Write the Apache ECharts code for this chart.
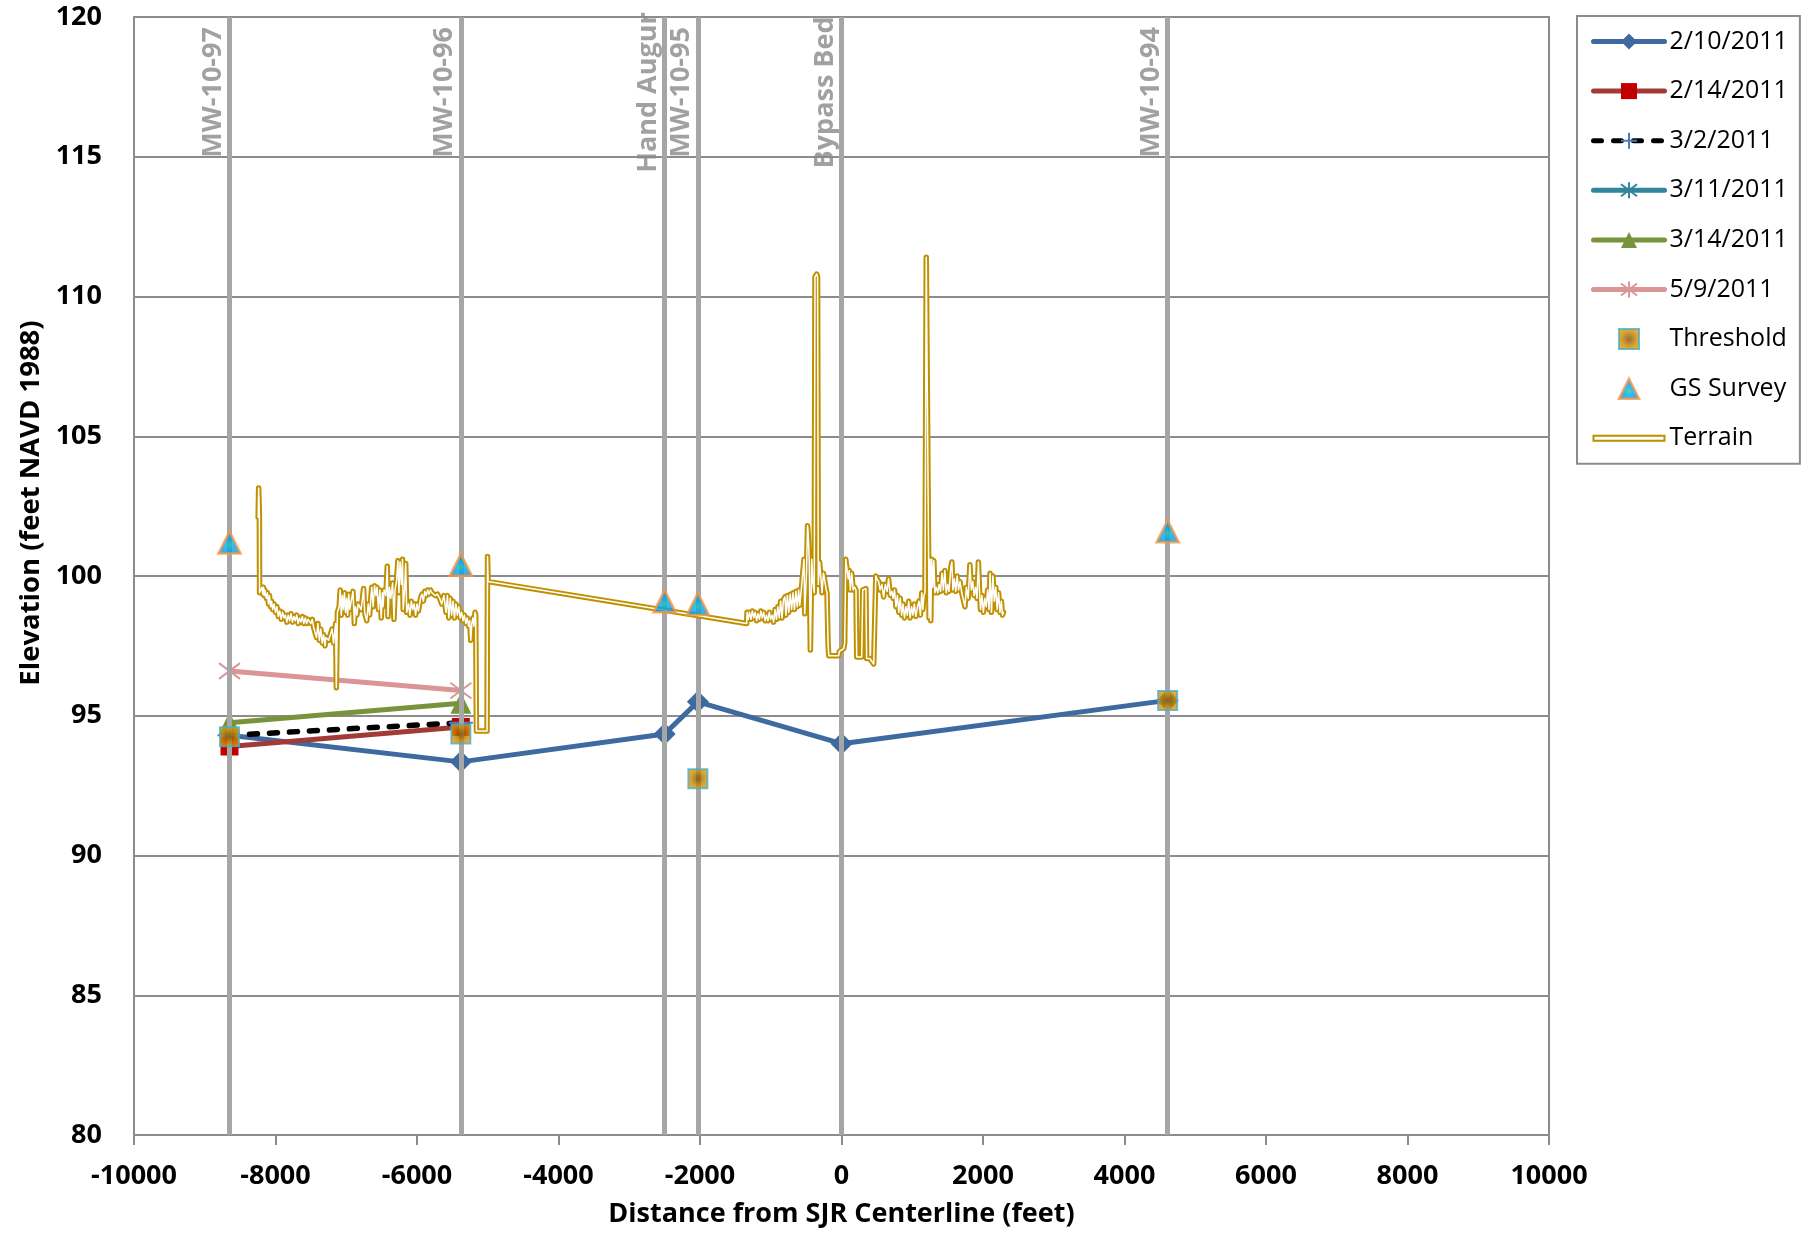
<!DOCTYPE html>
<html>
<head>
<meta charset="utf-8">
<script src="https://cdn.jsdelivr.net/npm/echarts@6/dist/echarts.min.js"></script>
<style>
html,body{margin:0;padding:0;background:#ffffff;}
#chart{width:1808px;height:1236px;}
</style>
</head>
<body>
<div id="chart"></div>
<script>
// ---------- data ----------
const xTicks = [-10000,-8000,-6000,-4000,-2000,0,2000,4000,6000,8000,10000];
const yTicks = [80,85,90,95,100,105,110,115,120];

const wellNames = ['MW-10-97','MW-10-96','Hand Augur','MW-10-95','Bypass Bed','MW-10-94'];
const wellX = [-8650,-5380,-2500,-2030,0,4610];

const s0210 = [[-8650,94.3],[-5380,93.35],[-2500,94.35],[-2030,95.5],[0,94.0],[4610,95.55]];
const s0214 = [[-8650,93.9],[-5380,94.6]];
const s0302 = [[-8650,94.3],[-5380,94.75]];
const s0311 = [];
const s0314 = [[-8650,94.75],[-5380,95.45]];
const s0509 = [[-8650,96.6],[-5380,95.9]];
const threshold = [[-8650,94.25],[-5380,94.35],[-2030,92.75],[4610,95.55]];
const gsSurvey = [[-8650,101.2],[-5380,100.4],[-2500,99.1],[-2030,99.0],[4610,101.6]];

const terrain = [
[-8245,102.1],[-8238,103.15],[-8232,103.1],[-8228,102.2],[-8225,99.4],
[-8207,99.4],[-8190,99.6],[-8180,99.35],[-8170,99.6],[-8160,99.3],[-8150,99.5],
[-8130,99.2],[-8115,99.4],[-8100,99.0],[-8085,99.3],[-8070,98.9],[-8055,99.1],[-8040,98.8],
[-8020,99.0],[-8000,98.7],[-7980,98.9],[-7960,98.55],[-7940,98.75],[-7920,98.45],[-7900,98.7],
[-7880,98.5],[-7860,98.6],[-7840,98.35],[-7820,98.6],[-7800,98.4],[-7780,98.65],[-7760,98.35],
[-7740,98.55],[-7720,98.4],[-7700,98.6],[-7680,98.3],[-7660,98.5],[-7640,98.35],[-7620,98.55],
[-7600,98.3],[-7580,98.5],[-7560,98.3],[-7540,98.45],[-7500,98.3],[-7480,98.45],[-7460,98.15],
[-7440,98.2],[-7420,97.8],[-7400,98.3],[-7380,97.7],[-7360,98.1],[-7340,97.6],[-7320,97.9],
[-7300,97.5],[-7290,97.8],[-7250,97.7],[-7200,98.1],[-7180,97.6],[-7150,98.3],[-7140,96.0],
[-7132,96.0],[-7125,98.7],[-7100,98.9],[-7085,99.5],[-7070,98.6],[-7055,99.3],[-7040,98.8],
[-7025,99.4],[-7010,98.7],[-6995,99.2],[-6980,98.6],[-6965,99.35],[-6950,98.8],[-6930,99.1],
[-6905,99.45],[-6885,98.3],[-6870,98.9],[-6850,98.6],[-6830,99.0],[-6790,98.8],[-6770,99.2],
[-6755,99.55],[-6740,98.7],[-6710,98.4],[-6690,99.0],[-6670,98.6],[-6640,99.6],[-6620,98.9],
[-6600,99.65],[-6580,99.3],[-6565,99.6],[-6545,98.8],[-6525,99.5],[-6505,98.5],[-6490,99.4],
[-6480,98.9],[-6465,99.5],[-6440,99.3],[-6420,100.35],[-6410,98.55],[-6390,99.6],[-6370,99.2],
[-6345,99.75],[-6325,98.45],[-6310,99.5],[-6290,99.8],[-6270,100.55],[-6255,99.4],[-6240,100.5],
[-6220,99.7],[-6205,100.6],[-6195,98.8],[-6175,99.5],[-6160,100.45],[-6145,98.7],[-6120,99.0],
[-6100,98.6],[-6080,99.1],[-6060,98.8],[-6040,99.0],[-6020,98.6],[-6000,99.0],[-5980,98.75],
[-5950,99.2],[-5930,99.35],[-5910,99.1],[-5890,99.45],[-5870,99.3],[-5850,99.5],[-5830,99.35],
[-5810,99.5],[-5790,99.4],[-5770,99.45],[-5740,99.3],[-5710,99.35],[-5680,99.2],[-5650,99.0],
[-5620,99.3],[-5590,98.7],[-5570,99.3],[-5550,98.5],[-5530,99.2],[-5510,98.6],[-5490,99.1],
[-5470,98.5],[-5450,99.0],[-5430,98.6],[-5410,98.9],[-5390,98.5],[-5370,98.7],[-5350,98.4],
[-5330,98.6],[-5310,98.3],[-5290,98.5],[-5270,98.2],[-5255,98.4],[-5240,97.7],[-5225,98.3],
[-5210,98.5],[-5195,98.2],[-5180,98.7],[-5170,98.6],[-5160,94.45],[-5010,94.45],[-5003,100.7],
[-4995,99.8],[-1340,98.3],[-1335,98.7],
[-1320,98.45],[-1300,98.7],[-1280,98.45],[-1260,98.75],[-1240,98.5],[-1220,98.7],[-1200,98.4],
[-1180,98.65],[-1160,98.45],[-1140,98.75],[-1120,98.5],[-1100,98.7],[-1080,98.4],[-1060,98.6],
[-1040,98.4],[-1020,98.7],[-1000,98.45],[-980,98.6],[-960,98.35],[-940,98.8],[-920,98.45],
[-900,98.9],[-880,98.5],[-860,99.1],[-840,98.5],[-820,99.15],[-800,99.25],[-785,98.6],
[-765,99.3],[-745,98.7],[-725,99.35],[-705,98.8],[-685,99.4],[-665,98.8],[-645,99.45],
[-625,98.9],[-605,99.5],[-590,98.95],[-565,99.6],[-530,100.6],[-520,98.65],[-495,100.1],
[-480,101.8],[-470,101.5],[-455,100.5],[-440,97.35],[-430,97.4],[-420,100.6],[-405,99.8],
[-385,99.4],[-375,110.7],[-350,110.8],[-338,110.7],[-328,99.7],[-310,100.5],[-290,99.9],
[-275,99.4],[-255,100.1],[-235,100.15],[-215,99.5],[-205,99.4],[-190,97.6],[-180,97.15],
[-40,97.15],[-30,97.3],[30,97.4],[45,97.6],[60,100.6],[75,100.55],[95,99.9],[110,100.2],
[125,99.5],[145,100.1],[165,99.5],[185,99.6],[205,99.5],[215,97.1],[285,97.1],[300,99.5],
[345,99.55],[355,97.05],[400,97.05],[420,97.0],[455,96.85],[475,96.85],[485,100.0],[500,99.9],
[525,99.8],[545,99.5],[570,99.7],[595,99.25],[620,99.7],[645,99.45],[665,99.9],[690,99.3],
[712,99.45],[730,99.2],[750,99.5],[770,98.9],[790,99.3],[810,98.7],[830,99.2],[850,98.6],
[870,99.0],[890,98.5],[910,98.9],[930,98.6],[950,99.1],[970,98.5],[990,98.9],[1010,98.6],
[1030,99.0],[1050,98.55],[1075,98.9],[1095,99.1],[1115,98.6],[1135,99.4],[1150,98.8],[1165,99.3],
[1180,99.4],[1198,111.4],[1225,111.4],[1238,98.5],[1250,100.6],[1262,98.4],[1275,100.6],
[1290,99.6],[1305,100.55],[1320,99.4],[1340,99.6],[1360,99.4],[1380,99.7],[1400,99.45],
[1420,100.1],[1440,99.5],[1460,100.2],[1480,99.4],[1500,99.7],[1520,99.45],[1545,100.3],
[1560,100.5],[1575,99.5],[1595,99.9],[1615,99.45],[1635,100.0],[1655,99.5],[1675,99.8],
[1700,99.4],[1725,99.45],[1745,98.9],[1765,99.6],[1790,99.2],[1815,100.4],[1835,99.5],
[1855,99.8],[1875,99.3],[1895,99.6],[1915,99.2],[1935,100.5],[1950,99.5],[1965,98.8],
[1985,99.3],[2005,98.7],[2025,99.2],[2045,98.9],[2065,99.5],[2085,98.8],[2100,100.1],
[2120,98.7],[2140,100.0],[2160,99.1],[2180,99.6],[2200,98.8],[2220,99.4],[2240,98.7],
[2260,99.1],[2275,98.6],[2290,98.7]
];

// ---------- styles ----------
const FONT = '"Open Sans", "Liberation Sans", sans-serif';
const GRIDC = '#8c8c8c';
const LABEL_Y = 117.3;
const plusPath = 'path://M0,10L20,10M10,0L10,20';
const starPath = 'path://M10,0L10,20M2.5,2.5L17.5,17.5M2.5,17.5L17.5,2.5';
const squarePath = 'path://M0,0H20V20H0Z';
const triPath = 'path://M10,0L20,20H0Z';

const chart = echarts.init(document.getElementById('chart'), null, {renderer:'canvas'});

const lineBase = (name, data, color, lineColor, symbol, size, extra) => Object.assign({
  name: name, type: 'line', data: data, z: 3,
  symbol: symbol, symbolSize: size, showSymbol: true, showAllSymbol: true,
  lineStyle: {color: lineColor, width: 5, cap: 'round', join: 'round'},
  itemStyle: {color: color},
  emphasis: {disabled: true}
}, extra || {});

const thresholdStyle = {
  color: {type: 'radial', x: 0.5, y: 0.5, r: 0.6,
    colorStops: [{offset: 0, color: '#7a4f00'}, {offset: 0.55, color: '#c98700'}, {offset: 1, color: '#eea200'}]},
  borderColor: '#4bacc6', borderWidth: 2
};
const gsStyle = {
  color: {type: 'radial', x: 0.5, y: 0.6, r: 0.6,
    colorStops: [{offset: 0, color: '#1ec8a8'}, {offset: 0.3, color: '#00a8ec'}, {offset: 1, color: '#0090d8'}]},
  borderColor: '#f79646', borderWidth: 2.5
};

const option = {
  animation: false,
  backgroundColor: '#ffffff',
  textStyle: {fontFamily: FONT},
  grid: {left: 134, right: 259, top: 17, bottom: 101, show: true, borderColor: GRIDC, borderWidth: 2,
         containLabel: false, outerBoundsMode: 'none'},
  xAxis: {
    type: 'value', min: xTicks[0], max: xTicks[xTicks.length-1], interval: 2000,
    name: 'Distance from SJR Centerline (feet)', nameLocation: 'middle', nameGap: 66,
    nameTextStyle: {fontFamily: FONT, fontWeight: 'bold', fontSize: 27, color: '#000'},
    axisLine: {show: true, onZero: false, lineStyle: {color: GRIDC, width: 2}},
    axisTick: {show: true, length: 10, lineStyle: {color: GRIDC, width: 2}},
    splitLine: {show: false},
    axisLabel: {fontFamily: FONT, fontWeight: 'bold', fontSize: 27, color: '#000', margin: 28,
                formatter: v => String(v)}
  },
  yAxis: {
    type: 'value', min: yTicks[0], max: yTicks[yTicks.length-1], interval: 5,
    name: 'Elevation (feet NAVD 1988)', nameLocation: 'middle', nameGap: 86, nameRotate: 90,
    nameTextStyle: {fontFamily: FONT, fontWeight: 'bold', fontSize: 27.5, color: '#000', padding: [0,0,0,146]},
    axisLine: {show: true, lineStyle: {color: GRIDC, width: 2}},
    axisTick: {show: false},
    splitLine: {show: true, lineStyle: {color: GRIDC, width: 2}},
    axisLabel: {fontFamily: FONT, fontWeight: 'bold', fontSize: 27, color: '#000', margin: 32,
                formatter: v => String(v)}
  },
  legend: {
    orient: 'vertical', left: 1577, top: 16,
    padding: [13, 12, 13, 14], itemGap: 24.6, itemWidth: 71, itemHeight: 20,
    borderColor: GRIDC, borderWidth: 2, backgroundColor: '#fff',
    selectedMode: false, symbolKeepAspect: true,
    textStyle: {fontFamily: FONT, fontSize: 25, lineHeight: 25, color: '#000'},
    lineStyle: {width: 5, cap: 'round'},
    data: [
      '2/10/2011','2/14/2011','3/2/2011','3/11/2011','3/14/2011','5/9/2011',
      {name: 'Threshold', icon: squarePath, itemStyle: thresholdStyle},
      {name: 'GS Survey', icon: triPath, itemStyle: gsStyle},
      {name: 'Terrain', icon: 'path://M0,0H71V5H0Z',
       itemStyle: {color: '#ffffff', borderColor: '#bf9000', borderWidth: 2}}
    ]
  },
  series: [
    {
      name: 'wells', type: 'line', data: [], z: 1, silent: true,
      markLine: {
        silent: true, symbol: 'none', animation: false,
        lineStyle: {color: '#a6a6a6', width: 5, type: 'solid'},
        label: {show: false},
        data: wellX.map(v => ({xAxis: v}))
      }
    },
    {
      name: 'wellLabels', type: 'scatter', z: 4, silent: true,
      symbolSize: 2, itemStyle: {color: 'rgba(0,0,0,0)'},
      data: wellX.map(v => [v, LABEL_Y]),
      label: {
        show: true, formatter: p => wellNames[p.dataIndex], rotate: 90,
        position: [-2, 1], align: 'center', verticalAlign: 'bottom',
        fontFamily: FONT, fontWeight: 'bold', fontSize: 27, color: '#8a8a8a'
      },
      labelLayout: {hideOverlap: false}
    },
    lineBase('2/10/2011', s0210, '#3e6a9f', '#3e6a9f', 'diamond', 22),
    lineBase('2/14/2011', s0214, '#c00000', '#a23b37', 'rect', 18),
    lineBase('3/2/2011', s0302, 'none', '#000000', plusPath, 24, {
      lineStyle: {color: '#000000', width: 5.5, cap: 'round', join: 'round', type: [8, 12]},
      itemStyle: {color: 'none', borderColor: '#4a7ebb', borderWidth: 2}
    }),
    lineBase('3/11/2011', s0311, 'none', '#31859c', starPath, 20, {
      itemStyle: {color: 'none', borderColor: '#31859c', borderWidth: 2}
    }),
    lineBase('3/14/2011', s0314, '#77933c', '#77933c', 'triangle', 21),
    lineBase('5/9/2011', s0509, 'none', '#d99694', starPath, 21, {
      itemStyle: {color: 'none', borderColor: '#d99694', borderWidth: 2}
    }),
    {
      name: 'Terrain', type: 'line', data: terrain, z: 5, symbol: 'none', silent: true,
      lineStyle: {color: '#bf9000', width: 5.5, cap: 'round', join: 'round'},
      itemStyle: {color: '#bf9000'}
    },
    {
      name: 'TerrainCore', type: 'line', data: terrain, z: 5, symbol: 'none', silent: true,
      lineStyle: {color: '#ffffff', width: 1.5, cap: 'round', join: 'round'},
      itemStyle: {color: '#ffffff'}
    },
    {
      name: 'Threshold', type: 'scatter', data: threshold, z: 6, symbol: 'rect', symbolSize: 19,
      itemStyle: thresholdStyle
    },
    {
      name: 'GS Survey', type: 'scatter', data: gsSurvey, z: 6, symbol: 'triangle', symbolSize: 22,
      itemStyle: gsStyle
    }
  ]
};
chart.setOption(option);
</script>
</body>
</html>
